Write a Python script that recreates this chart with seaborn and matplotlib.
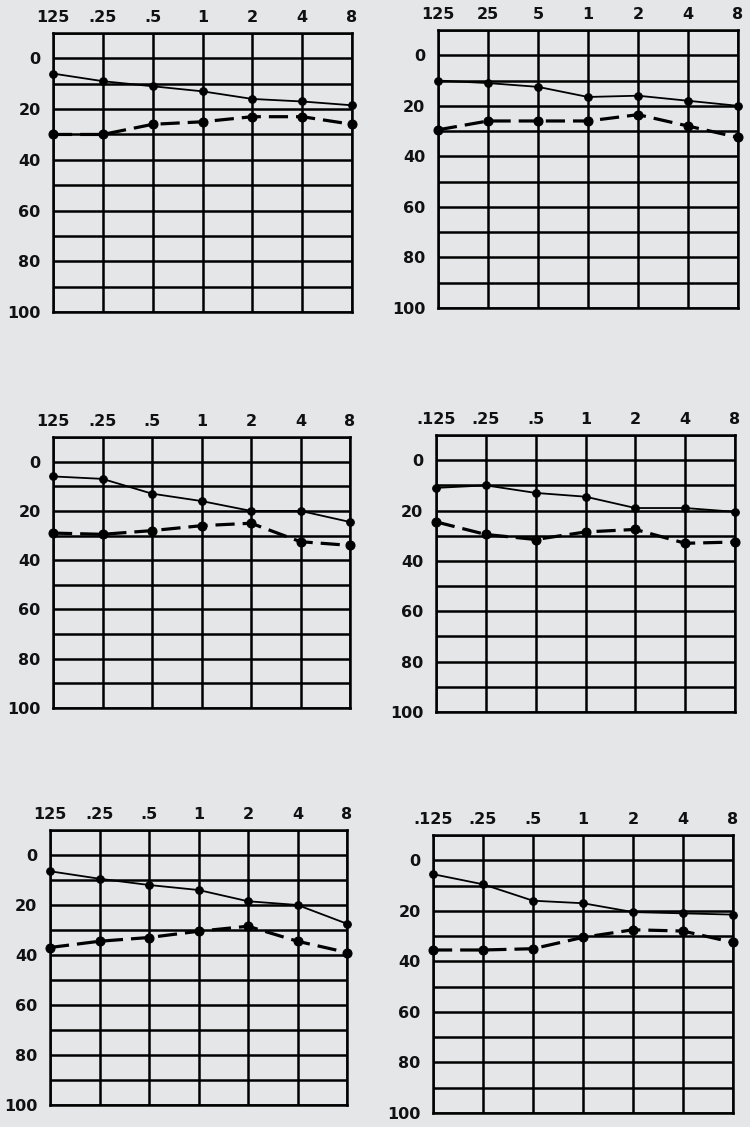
import matplotlib
matplotlib.use("Agg")
import matplotlib.pyplot as plt
import seaborn as sns
import pandas as pd
import numpy as np

sns.set_theme(style="white")
plt.rcParams['font.family'] = ['DejaVu Sans']

freqs = [".125", ".25", ".5", "1", "2", "4", "8"]

labels_1 = ["125", ".25", ".5", "1", "2", "4", "8"]
labels_2 = ["125", "25", "5", "1", "2", "4", "8"]
labels_3 = ["125", ".25", ".5", "1", "2", "4", "8"]
labels_4 = [".125", ".25", ".5", "1", "2", "4", "8"]
labels_5 = ["125", ".25", ".5", "1", "2", "4", "8"]
labels_6 = [".125", ".25", ".5", "1", "2", "4", "8"]

solid_1 = [6, 9, 11, 13, 16, 17, 18.5]
dashed_1 = [30, 30, 26, 25, 23, 23, 26]
solid_2 = [10, 11, 12.5, 16.5, 16, 18, 20]
dashed_2 = [29.5, 26, 26, 26, 23.5, 28, 32.5]
solid_3 = [6, 7, 13, 16, 20, 20, 24.5]
dashed_3 = [29, 29.5, 28, 26, 25, 32.5, 34]
solid_4 = [11, 10, 13, 14.5, 19, 19, 20.5]
dashed_4 = [24.5, 29.5, 31.5, 28.5, 27.5, 33, 32.5]
solid_5 = [6.5, 9.5, 12, 14, 18.5, 20, 27.5]
dashed_5 = [37, 34.5, 33, 30.5, 28.5, 34.5, 39]
solid_6 = [5.5, 9.5, 16, 17, 20.5, 21, 21.5]
dashed_6 = [35.5, 35.5, 35, 30.5, 27.5, 28, 32.5]

panels = [
    (labels_1, solid_1, dashed_1),
    (labels_2, solid_2, dashed_2),
    (labels_3, solid_3, dashed_3),
    (labels_4, solid_4, dashed_4),
    (labels_5, solid_5, dashed_5),
    (labels_6, solid_6, dashed_6),
]

# axes rectangles in pixels: left, top, right, bottom
rects_px = [
    (53, 33, 352, 312),
    (438, 30, 738, 308),
    (53, 437, 350, 708),
    (436, 435, 735, 712),
    (50, 830, 347, 1105),
    (433, 835, 733, 1113),
]

W, H = 750, 1127
bg = "#e4e6e7"
fig = plt.figure(figsize=(W / 100, H / 100), dpi=100, facecolor=bg)

for (labels, solid, dashed), (l, t, r, b) in zip(panels, rects_px):
    ax = fig.add_axes([l / W, 1 - b / H, (r - l) / W, (b - t) / H])
    ax.set_facecolor(bg)
    pos = np.arange(len(freqs))
    df = pd.DataFrame({"pos": np.concatenate([pos, pos]),
                       "level": solid + dashed,
                       "kind": ["solid"] * 7 + ["dashed"] * 7})
    sns.lineplot(data=df[df.kind == "solid"], x="pos", y="level", ax=ax,
                 color="black", lw=1.3, marker="o", markersize=5.5,
                 markeredgecolor="black", zorder=5, clip_on=False)
    sns.lineplot(data=df[df.kind == "dashed"], x="pos", y="level", ax=ax,
                 color="black", lw=2.3, marker="o", markersize=6.5,
                 markeredgecolor="black", zorder=5, clip_on=False)
    ax.lines[-1].set_dashes([6, 2.5])
    ax.set_xlim(0, 6)
    ax.set_ylim(100, -10)
    ax.set_xticks(pos)
    ax.set_xticklabels(labels)
    ax.xaxis.tick_top()
    ax.set_yticks([0, 20, 40, 60, 80, 100])
    ax.set_yticklabels(["0", "20", "40", "60", "80", "100"])
    ax.set_yticks([-10, 10, 30, 50, 70, 90], minor=True)
    ax.tick_params(axis="both", which="both", length=0, labelsize=11.5,
                   colors="#111111")
    ax.tick_params(axis="x", pad=6)
    ax.tick_params(axis="y", pad=9)
    for lab in ax.get_xticklabels() + ax.get_yticklabels():
        lab.set_fontweight("bold")
    ax.grid(True, which="both", color="black", lw=1.8)
    for s in ax.spines.values():
        s.set_color("black")
        s.set_linewidth(1.8)
    ax.set_xlabel("")
    ax.set_ylabel("")
    if ax.get_legend():
        ax.get_legend().remove()

fig.savefig("out.png", dpi=100, facecolor=bg)
